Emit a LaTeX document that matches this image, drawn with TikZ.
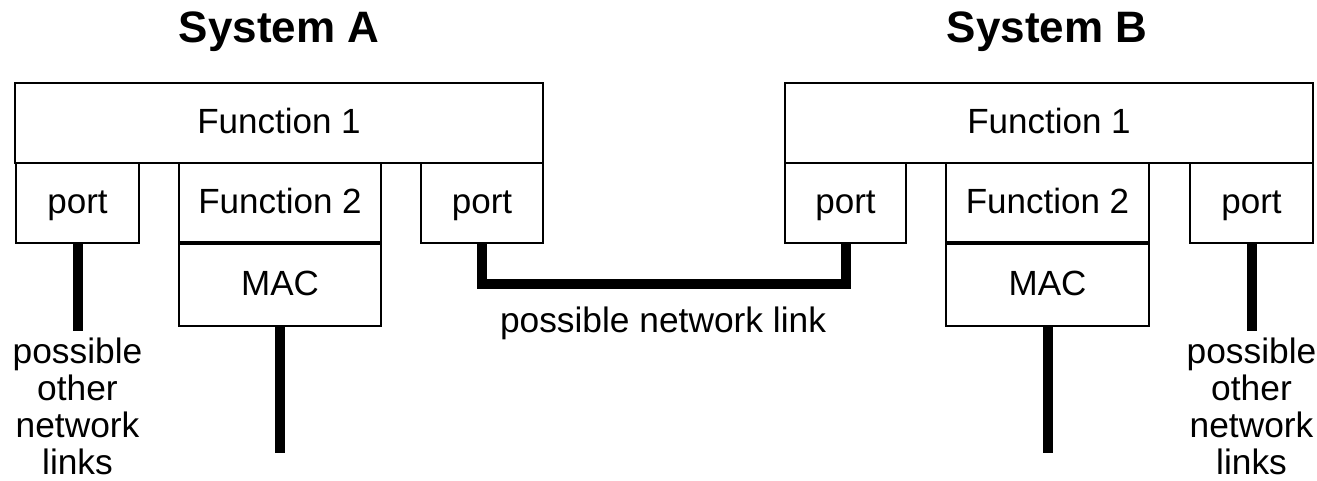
\documentclass[tikz,border=0pt]{standalone}
\usepackage{fontspec}
\setmainfont{Liberation Sans}
\begin{document}
\begin{tikzpicture}[x=0.75pt,y=-0.75pt,
  box/.style={draw, line width=1.5pt, inner sep=0pt, outer sep=0pt,
    minimum height=60pt, text height=18.75pt, text depth=3pt,
    font=\fontsize{26.25}{28}\selectfont},
  link/.style={line width=7.5pt, line join=miter},
  lbl/.style={font=\fontsize{26.5}{27.75}\selectfont, inner sep=0pt, outer sep=0pt, align=center},
  systitle/.style={font=\fontsize{33}{36}\selectfont\bfseries, inner sep=0pt}]
\useasboundingbox (0,0) rectangle (1317,480);

% titles
\node[systitle, anchor=base] (sa) at (279,42) {System A};
\node[systitle, anchor=base] (sb) at (1047,42) {System B};

% System A
\node[box, minimum width=396pt] (f1a) at (279,123) {Function 1};
\node[box, minimum width=92.25pt] (pal) at (77.5,203) {port};
\node[box, minimum width=151.5pt] (f2a) at (280,203) {Function 2};
\node[box, minimum width=151.5pt, minimum height=62.25pt] (maca) at (280,284.5) {MAC};
\node[box, minimum width=91.5pt] (par) at (482,203) {port};
\draw[line width=2.6pt] (f2a.south west) -- (f2a.south east);

% System B
\node[box, minimum width=396pt] (f1b) at (1049,123) {Function 1};
\node[box, minimum width=90.75pt] (pbl) at (845.5,203) {port};
\node[box, minimum width=152.25pt] (f2b) at (1047.5,203) {Function 2};
\node[box, minimum width=152.25pt, minimum height=62.25pt] (macb) at (1047.5,284.5) {MAC};
\node[box, minimum width=92.25pt] (pbr) at (1251.5,203) {port};
\draw[line width=2.6pt] (f2b.south west) -- (f2b.south east);

% labels
\node[lbl, anchor=north] (oa) at (77.5,338) {possible\\other\\network\\links};
\node[lbl, anchor=north] (ob) at (1251.5,338) {possible\\other\\network\\links};
\node[lbl, anchor=base] (nl) at (663,332) {possible network link};

% connectors
\coordinate (ea) at (280,453);
\coordinate (eb) at (1047.5,453);
\coordinate (ta) at (77.5,331);
\coordinate (tb) at (1251.5,331);
\draw[link] (pal.south) -- (ta);
\draw[link] (pbr.south) -- (tb);
\draw[link] (maca.south) -- (ea);
\draw[link] (macb.south) -- (eb);
\draw[link] (par.south) -- ++(0,41) -| (pbl.south);
\end{tikzpicture}
\end{document}
